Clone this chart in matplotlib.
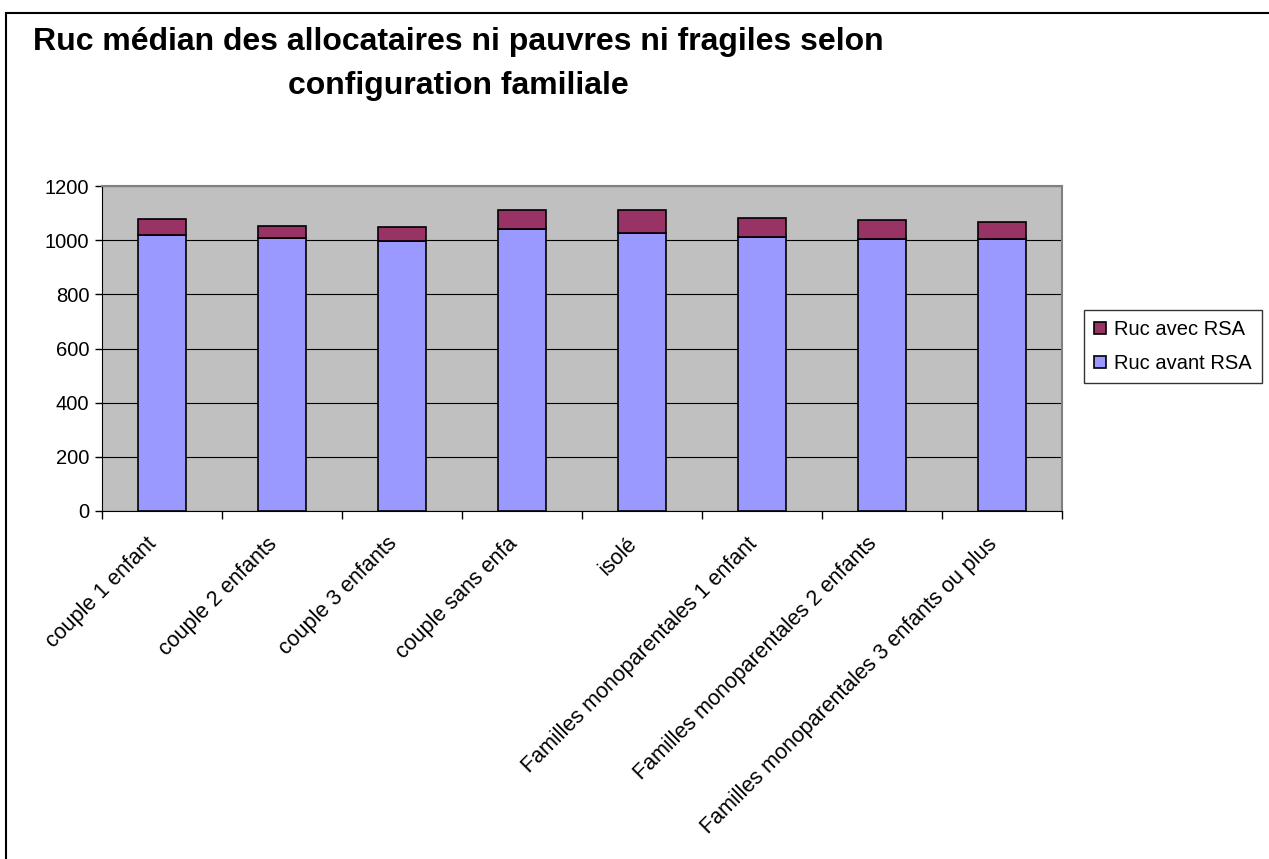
import matplotlib
matplotlib.use("Agg")
import matplotlib.pyplot as plt
from matplotlib.patches import Rectangle

plt.rcParams['font.family'] = ['Liberation Sans', 'DejaVu Sans']

categories = [
    "couple 1 enfant",
    "couple 2 enfants",
    "couple 3 enfants",
    "couple sans enfa",
    "isolé",
    "Familles monoparentales 1 enfant",
    "Familles monoparentales 2 enfants",
    "Familles monoparentales 3 enfants ou plus",
]
ruc_avant = [1020, 1007, 998, 1041, 1028, 1013, 1006, 1006]
ruc_avec = [60, 44, 52, 69, 82, 69, 67, 60]
yticks = [0, 200, 400, 600, 800, 1000, 1200]

W, H = 1269, 859
fig = plt.figure(figsize=(W / 100, H / 100), dpi=100)
fig.patch.set_facecolor('white')

# chart-area border
fig.add_artist(Rectangle((6 / W, -0.1), 1.2, (H - 13) / H + 0.1,
                         transform=fig.transFigure, fill=False,
                         edgecolor='black', linewidth=1.5))

left, right, top, bottom = 102, 1062, 186, 511
ax = fig.add_axes([left / W, 1 - bottom / H, (right - left) / W, (bottom - top) / H])
ax.set_facecolor('#C0C0C0')

x = list(range(len(categories)))
ax.bar(x, ruc_avant, width=0.4, color='#9999FF', edgecolor='black',
       linewidth=1.2, label='Ruc avant RSA', zorder=3)
ax.bar(x, ruc_avec, width=0.4, bottom=ruc_avant, color='#993366',
       edgecolor='black', linewidth=1.2, label='Ruc avec RSA', zorder=3)

ax.set_xlim(-0.5, len(categories) - 0.5)
ax.set_ylim(0, 1200)
ax.set_yticks(yticks)
ax.set_yticklabels([str(v) for v in yticks], fontsize=14.5)
ax.yaxis.grid(True, color='black', linewidth=0.8, zorder=1)
ax.tick_params(axis='y', length=5, width=1, pad=4)

ax.set_xticks([i + 0.5 for i in range(-1, len(categories))], minor=False)
ax.set_xticklabels([])
ax.tick_params(axis='x', length=6, width=1, direction='out')
for i, name in enumerate(categories):
    ax.text(i - 0.13, -82, name, rotation=45, rotation_mode='anchor',
            ha='right', va='top', fontsize=15.5)

for side in ['top', 'right']:
    ax.spines[side].set_color('#808080')
    ax.spines[side].set_linewidth(1.5)
ax.spines['left'].set_color('black')
ax.spines['bottom'].set_color('black')

handles, labels = ax.get_legend_handles_labels()
leg = fig.legend(handles[::-1], labels[::-1], loc='upper left',
                 bbox_to_anchor=(1084 / W, 1 - 310 / H), fontsize=14.5,
                 frameon=True, fancybox=False, edgecolor='black',
                 handlelength=0.6, handleheight=0.6, handletextpad=0.4,
                 labelspacing=0.75, borderpad=0.5, borderaxespad=0)
leg.get_frame().set_linewidth(1)

fig.text(458 / W, 1 - 42 / H, "Ruc médian des allocataires ni pauvres ni fragiles selon",
         ha='center', va='center', fontsize=23, fontweight='bold')
fig.text(458 / W, 1 - 86 / H, "configuration familiale",
         ha='center', va='center', fontsize=23, fontweight='bold')

fig.savefig('out.png', dpi=100, facecolor='white')
